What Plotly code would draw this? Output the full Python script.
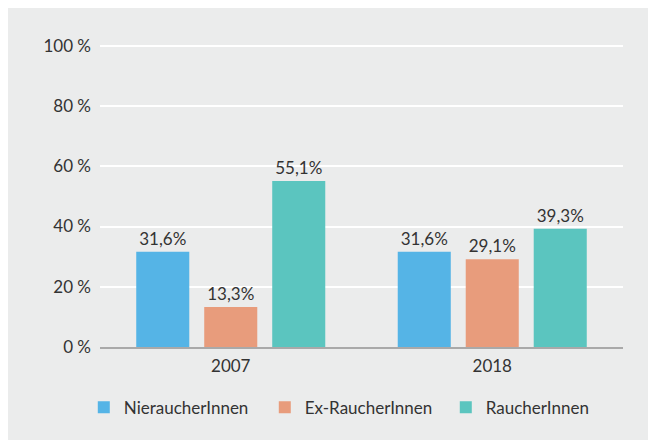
import plotly.graph_objects as go

years = ["2007", "2018"]
series_names = ["NieraucherInnen", "Ex-RaucherInnen", "RaucherInnen"]
nie = [31.6, 31.6]
ex = [13.3, 29.1]
raucher = [55.1, 39.3]
y_ticks = [0, 20, 40, 60, 80, 100]
y_ticktext = ["0 %", "20 %", "40 %", "60 %", "80 %", "100 %"]
colors = ["#55B4E6", "#E89C7C", "#5BC5BF"]

FONT = "Lato, Noto Sans, sans-serif"
TXT = "#333333"

fig = go.Figure()
for name, vals, col in zip(series_names, [nie, ex, raucher], colors):
    fig.add_trace(go.Bar(
        x=years, y=vals, name=name, marker_color=col, marker_line_width=0,
        text=[f"{v:.1f}%".replace(".", ",") for v in vals],
        textposition="outside", cliponaxis=False,
        textfont=dict(size=17, color=TXT, family=FONT),
    ))

fig.update_layout(
    width=656, height=444,
    margin=dict(l=92, r=41, t=36, b=105, autoexpand=False),
    paper_bgcolor="white", plot_bgcolor="#EBECEC",
    font=dict(family=FONT, size=17, color=TXT),
    bargap=0.22, bargroupgap=0.22,
    showlegend=True,
    legend=dict(orientation="h", x=-0.031, xanchor="left", y=-0.2, yanchor="middle",
                font=dict(size=17, color=TXT),
                entrywidth=136, entrywidthmode="pixels",
                bgcolor="rgba(0,0,0,0)", traceorder="normal"),
)
fig.add_shape(type="rect", xref="paper", yref="paper",
              x0=-0.176, x1=1.048, y0=-0.307, y1=1.119,
              fillcolor="#EBECEC", line_width=0, layer="below")
fig.update_yaxes(range=[0, 100.6], tickvals=y_ticks, ticktext=y_ticktext,
                 showgrid=True, gridcolor="white", gridwidth=2, automargin=False,
                 zeroline=False, showline=False, ticks="", ticklabelstandoff=8,
                 tickfont=dict(size=17))
fig.update_xaxes(showline=True, linecolor="#A9A9A9", linewidth=2, ticks="",
                 automargin=False, tickfont=dict(size=17), showgrid=False,
                 ticklabelstandoff=3)

fig.write_html("out.html")
